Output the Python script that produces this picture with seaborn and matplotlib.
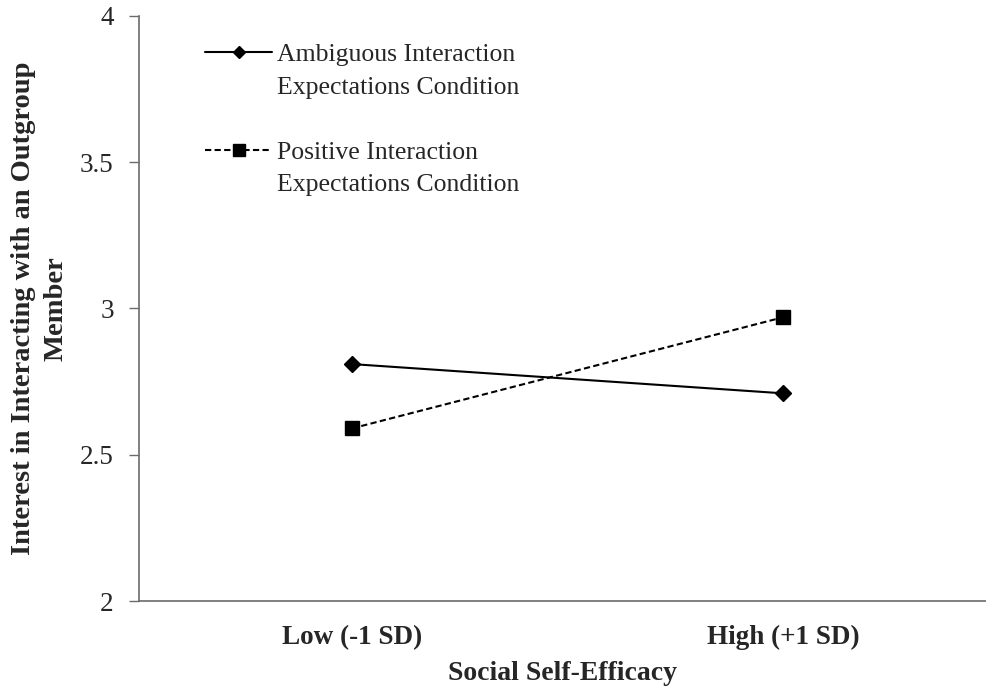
import matplotlib
matplotlib.use("Agg")
import matplotlib.pyplot as plt
import seaborn as sns
import pandas as pd
from matplotlib.lines import Line2D

# Simple-slopes values for each condition at low / high social self-efficacy
efficacy_levels = ["Low (-1 SD)", "High (+1 SD)"]
ambiguous = [2.81, 2.71]
positive = [2.59, 2.97]
conditions = ["Ambiguous Interaction\nExpectations Condition",
              "Positive Interaction\nExpectations Condition"]
y_ticks = [2, 2.5, 3, 3.5, 4]

rows = []
for cond, vals in zip(conditions, [ambiguous, positive]):
    for i, v in enumerate(vals):
        rows.append({"x": i, "level": efficacy_levels[i], "value": v, "condition": cond})
df = pd.DataFrame(rows)

sns.set_theme(style="white")
plt.rcParams["font.family"] = ["Liberation Serif", "DejaVu Serif"]

fig = plt.figure(figsize=(9.87, 6.89), dpi=100)
ax = fig.add_axes([0.1408, 0.1277, 0.8592, 0.8491])

dash = (3, 1.6)
sns.lineplot(data=df, x="x", y="value", style="condition", hue="condition",
             palette=["black", "black"],
             dashes={conditions[0]: "", conditions[1]: dash},
             linewidth=1.5, legend=False, ax=ax)
# markers drawn separately so each shape gets its own size
ax.plot([0, 1], ambiguous, linestyle="none", marker="D", markersize=8.5, color="black")
ax.plot([0, 1], positive, linestyle="none", marker="s", markersize=10, color="black")

ax.set_xlim(-0.494, 1.473)
ax.set_ylim(2, 4)
ax.set_yticks(y_ticks)
ax.set_yticklabels([f"{t:g}" for t in y_ticks], fontsize=19.5)
ax.set_xticks([0, 1])
ax.set_xticklabels(efficacy_levels, fontsize=19.5, fontweight="bold")
ax.tick_params(axis="y", direction="out", length=7.2, width=1, color="#6b6b6b", pad=11, left=True)
ax.tick_params(axis="x", length=0, pad=17)

ax.set_xlabel("Social Self-Efficacy", fontsize=20, fontweight="bold", labelpad=8)
ax.set_ylabel("Interest in Interacting with an Outgroup\nMember", fontsize=20.5,
              fontweight="bold", labelpad=8, linespacing=1.4)

sns.despine(ax=ax)
for side in ["left", "bottom"]:
    ax.spines[side].set_color("#6b6b6b")
    ax.spines[side].set_linewidth(1.2)

# legend: marker handle sits beside the first line of each two-line label
blank = Line2D([], [], linestyle="none")
handles = [
    Line2D([0], [0], color="black", lw=1.5, marker="D", markersize=6),
    blank, blank,
    Line2D([0], [0], color="black", lw=1.5, linestyle=(0, dash), marker="s", markersize=8),
    blank,
]
labels = []
for i, c in enumerate(conditions):
    first, second = c.split("\n")
    labels += [first, second]
    if i == 0:
        labels.append(" ")
leg = ax.legend(handles, labels, loc="upper left", bbox_to_anchor=(0.066, 0.971),
                frameon=False, fontsize=18.5, handlelength=2.6, labelspacing=0.37,
                handletextpad=0.2, borderaxespad=0)

fig.savefig("out.png", dpi=100)
